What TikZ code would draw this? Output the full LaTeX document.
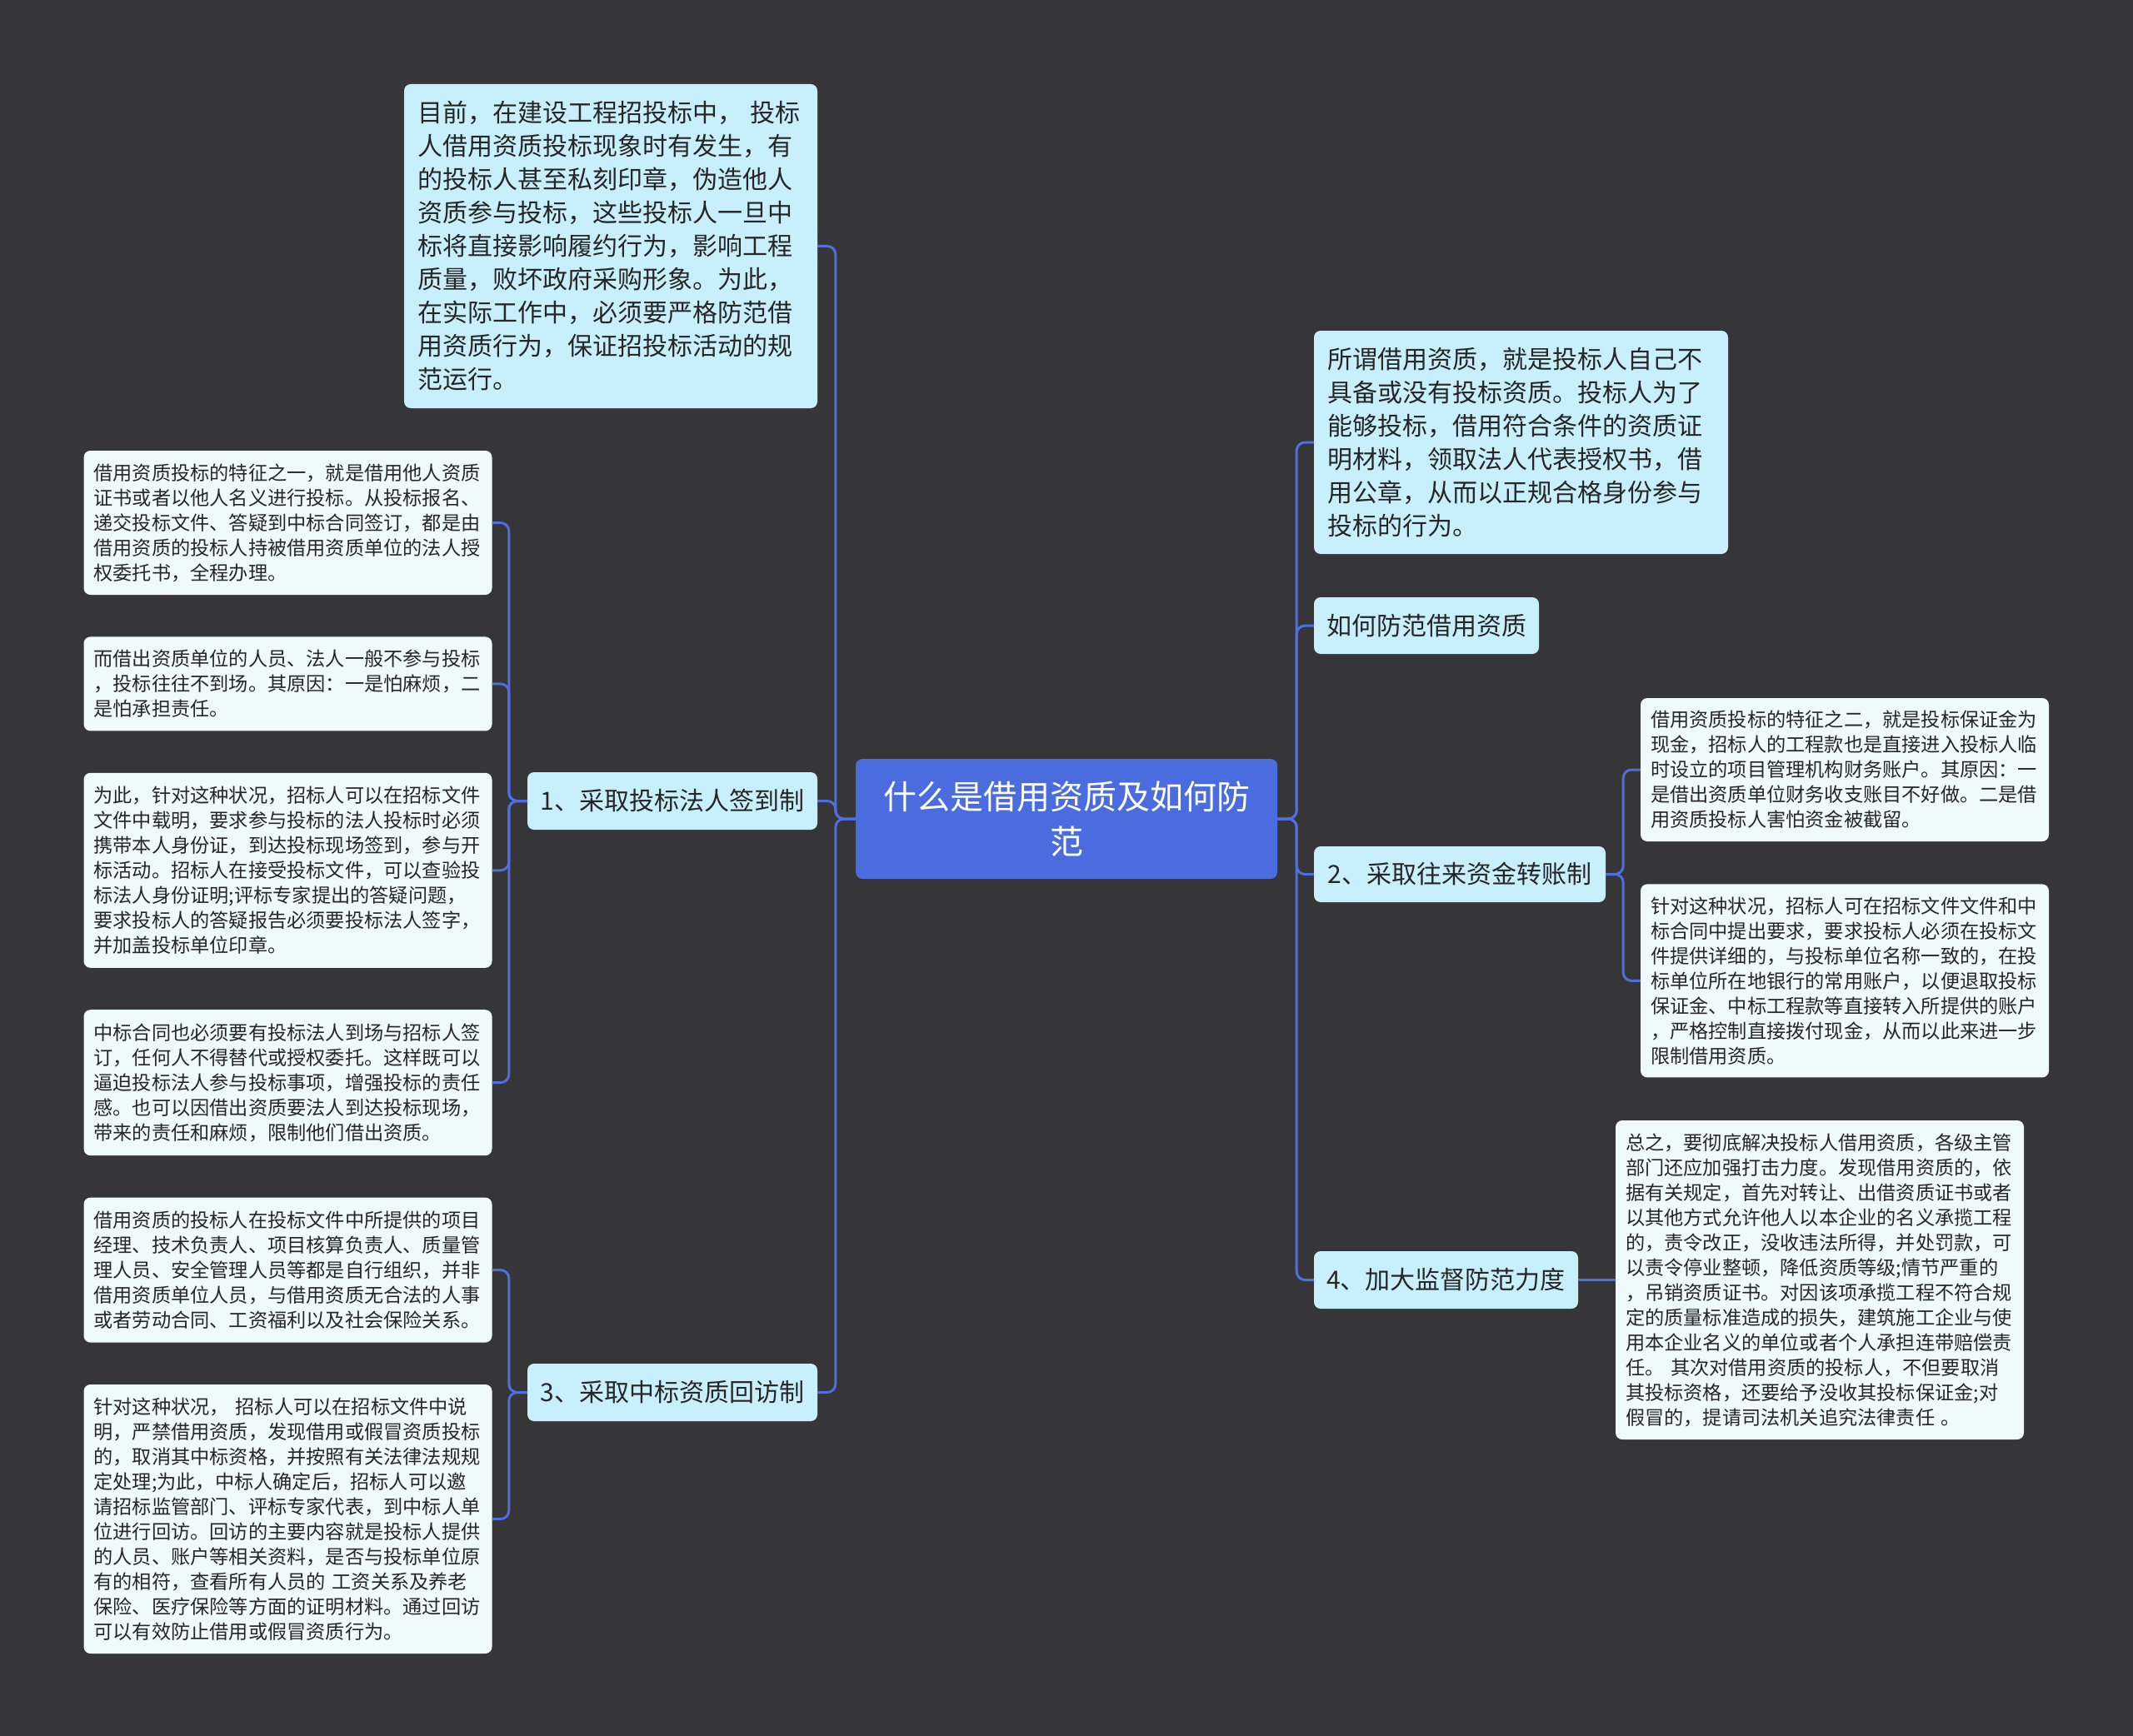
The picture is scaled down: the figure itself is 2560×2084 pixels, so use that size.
\documentclass[tikz,border=0pt]{standalone}
\usepackage{fontspec}
\newfontfamily\cjk{Noto Sans CJK SC}
\usetikzlibrary{positioning}

\definecolor{bgdark}{HTML}{363537}
\definecolor{rootblue}{HTML}{4A6CDF}
\definecolor{linkblue}{HTML}{4D6FE0}
\definecolor{topicfill}{HTML}{C8EFFC}
\definecolor{leaffill}{HTML}{EFFAFD}
\definecolor{inkdark}{HTML}{262626}

\begin{document}
\begin{tikzpicture}[
  x=1pt, y=-1pt,
  node distance=50pt,
  % Estilos de nodos
  rootbox/.style={fill=rootblue, rounded corners=8pt, text=white, font=\cjk\fontsize{40}{54}\selectfont, align=center, text width=460pt, inner xsep=23pt, inner ysep=0pt, minimum height=144pt},
  topic/.style={fill=topicfill, rounded corners=8pt, text=inkdark, font=\cjk\fontsize{30}{40}\selectfont, inner sep=0pt, minimum height=69pt},
  note/.style={fill=topicfill, rounded corners=8pt, text=inkdark, font=\cjk\fontsize{30}{40}\selectfont, align=left, inner xsep=16pt, inner ysep=0pt},
  leaf/.style={fill=leaffill, rounded corners=8pt, text=inkdark, font=\cjk\fontsize{23.2}{30}\selectfont, align=left, text width=466pt, inner xsep=12pt, inner ysep=0pt},
  % Estilo de conectores
  link/.style={draw=linkblue, line width=3pt, rounded corners=10pt}
]

  % Fondo
  \fill[bgdark] (0,0) rectangle (2560,2084);

  % ==========================================
  % ROOT
  % ==========================================
  \node[rootbox] (root) at (1280,983) {什么是借用资质及如何防\\范};

  % ==========================================
  % LEFT SIDE
  % ==========================================
  \node[note, text width=464pt, minimum height=389pt] (intro_note) at (733,295.5) {
    目前，在建设工程招投标中， 投标\\
    人借用资质投标现象时有发生，有\\
    的投标人甚至私刻印章，伪造他人\\
    资质参与投标，这些投标人一旦中\\
    标将直接影响履约行为，影响工程\\
    质量，败坏政府采购形象。为此，\\
    在实际工作中，必须要严格防范借\\
    用资质行为，保证招投标活动的规\\
    范运行。};

  \node[topic, minimum width=348pt] (sign_topic) at (807,961.5) {1、采取投标法人签到制};
  \node[topic, minimum width=348pt] (visit_topic) at (807,1671.5) {3、采取中标资质回访制};

  % Hojas de "1"
  \node[leaf, minimum height=173pt] (sign_leaf1) at (345.5,627.5) {
    借用资质投标的特征之一，就是借用他人资质\\
    证书或者以他人名义进行投标。从投标报名、\\
    递交投标文件、答疑到中标合同签订，都是由\\
    借用资质的投标人持被借用资质单位的法人授\\
    权委托书，全程办理。};
  \node[leaf, minimum height=113pt, below=of sign_leaf1] (sign_leaf2) {
    而借出资质单位的人员、法人一般不参与投标\\
    ，投标往往不到场。其原因：一是怕麻烦，二\\
    是怕承担责任。};
  \node[leaf, minimum height=234pt, below=of sign_leaf2] (sign_leaf3) {
    为此，针对这种状况，招标人可以在招标文件\\
    文件中载明，要求参与投标的法人投标时必须\\
    携带本人身份证，到达投标现场签到，参与开\\
    标活动。招标人在接受投标文件，可以查验投\\
    标法人身份证明;评标专家提出的答疑问题，\\
    要求投标人的答疑报告必须要投标法人签字，\\
    并加盖投标单位印章。};
  \node[leaf, minimum height=175pt, below=of sign_leaf3] (sign_leaf4) {
    中标合同也必须要有投标法人到场与招标人签\\
    订，任何人不得替代或授权委托。这样既可以\\
    逼迫投标法人参与投标事项，增强投标的责任\\
    感。也可以因借出资质要法人到达投标现场，\\
    带来的责任和麻烦，限制他们借出资质。};

  % Hojas de "3"
  \node[leaf, minimum height=174pt, below=of sign_leaf4] (visit_leaf1) {
    借用资质的投标人在投标文件中所提供的项目\\
    经理、技术负责人、项目核算负责人、质量管\\
    理人员、安全管理人员等都是自行组织，并非\\
    借用资质单位人员，与借用资质无合法的人事\\
    或者劳动合同、工资福利以及社会保险关系。};
  \node[leaf, minimum height=323pt, below=of visit_leaf1] (visit_leaf2) {
    针对这种状况， 招标人可以在招标文件中说\\
    明，严禁借用资质，发现借用或假冒资质投标\\
    的，取消其中标资格，并按照有关法律法规规\\
    定处理;为此，中标人确定后，招标人可以邀\\
    请招标监管部门、评标专家代表，到中标人单\\
    位进行回访。回访的主要内容就是投标人提供\\
    的人员、账户等相关资料，是否与投标单位原\\
    有的相符，查看所有人员的 工资关系及养老\\
    保险、医疗保险等方面的证明材料。通过回访\\
    可以有效防止借用或假冒资质行为。};

  % ==========================================
  % RIGHT SIDE
  % ==========================================
  \node[note, text width=465pt, minimum height=268pt] (define_note) at (1825.5,531) {
    所谓借用资质，就是投标人自己不\\
    具备或没有投标资质。投标人为了\\
    能够投标，借用符合条件的资质证\\
    明材料，领取法人代表授权书，借\\
    用公章，从而以正规合格身份参与\\
    投标的行为。};

  \node[topic, minimum width=270pt, minimum height=68pt] (how_topic) at (1712,751) {如何防范借用资质};
  \node[topic, minimum width=350pt, minimum height=67pt] (fund_topic) at (1752,1049.5) {2、采取往来资金转账制};
  \node[topic, minimum width=317pt] (supervise_topic) at (1735.5,1536.5) {4、加大监督防范力度};

  % Hojas de "2"
  \node[leaf, minimum height=172pt] (fund_leaf1) at (2214,924) {
    借用资质投标的特征之二，就是投标保证金为\\
    现金，招标人的工程款也是直接进入投标人临\\
    时设立的项目管理机构财务账户。其原因：一\\
    是借出资质单位财务收支账目不好做。二是借\\
    用资质投标人害怕资金被截留。};
  \node[leaf, minimum height=232pt, below=51pt of fund_leaf1] (fund_leaf2) {
    针对这种状况，招标人可在招标文件文件和中\\
    标合同中提出要求，要求投标人必须在投标文\\
    件提供详细的，与投标单位名称一致的，在投\\
    标单位所在地银行的常用账户，以便退取投标\\
    保证金、中标工程款等直接转入所提供的账户\\
    ，严格控制直接拨付现金，从而以此来进一步\\
    限制借用资质。};

  % Hoja de "4"
  \node[leaf, minimum height=383pt] (supervise_leaf) at (2184,1536.5) {
    总之，要彻底解决投标人借用资质，各级主管\\
    部门还应加强打击力度。发现借用资质的，依\\
    据有关规定，首先对转让、出借资质证书或者\\
    以其他方式允许他人以本企业的名义承揽工程\\
    的，责令改正，没收违法所得，并处罚款，可\\
    以责令停业整顿，降低资质等级;情节严重的\\
    ，吊销资质证书。对因该项承揽工程不符合规\\
    定的质量标准造成的损失，建筑施工企业与使\\
    用本企业名义的单位或者个人承担连带赔偿责\\
    任。 其次对借用资质的投标人，不但要取消\\
    其投标资格，还要给予没收其投标保证金;对\\
    假冒的，提请司法机关追究法律责任 。};

  % ==========================================
  % CONNECTORS
  % ==========================================
  % Raiz -> izquierda
  \draw[link] (root.west) -- ++(-24,0) |- (intro_note.east);
  \draw[link] (root.west) -- ++(-24,0) |- (sign_topic.east);
  \draw[link] (root.west) -- ++(-24,0) |- (visit_topic.east);

  % Raiz -> derecha
  \draw[link] (root.east) -- ++(23,0) |- (define_note.west);
  \draw[link] (root.east) -- ++(23,0) |- (how_topic.west);
  \draw[link] (root.east) -- ++(23,0) |- (fund_topic.west);
  \draw[link] (root.east) -- ++(23,0) |- (supervise_topic.west);

  % "1" -> hojas
  \foreach \leafname in {sign_leaf1, sign_leaf2, sign_leaf3, sign_leaf4}
    \draw[link] (sign_topic.west) -- ++(-22,0) |- (\leafname.east);

  % "3" -> hojas
  \foreach \leafname in {visit_leaf1, visit_leaf2}
    \draw[link] (visit_topic.west) -- ++(-22,0) |- (\leafname.east);

  % "2" -> hojas
  \foreach \leafname in {fund_leaf1, fund_leaf2}
    \draw[link] (fund_topic.east) -- ++(21,0) |- (\leafname.west);

  % "4" -> hoja
  \draw[link] (supervise_topic.east) -- (supervise_leaf.west);

\end{tikzpicture}
\end{document}
